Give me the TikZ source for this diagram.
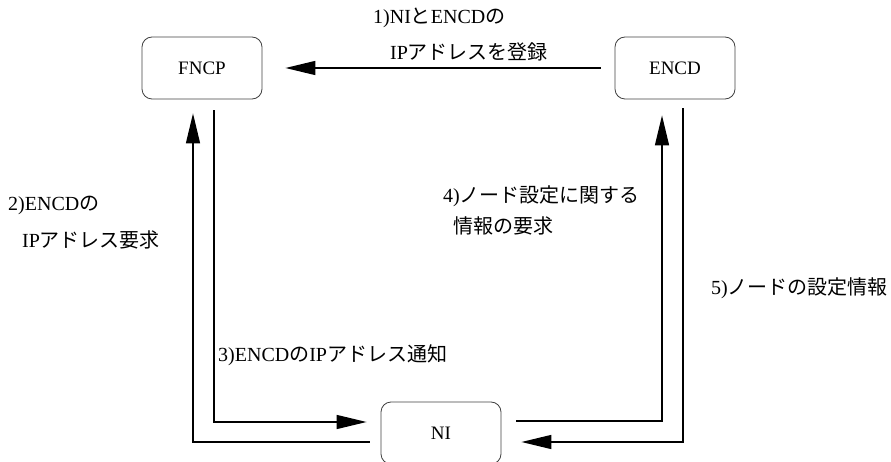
\documentclass[tikz,border=0pt]{standalone}
\usepackage{fontspec}
\setmainfont{Liberation Serif}
\newfontfamily\jp{Noto Sans CJK JP}
\usetikzlibrary{arrows.meta}
\tikzset{
  box/.style={draw=black!75, line width=0.8pt, rounded corners=10pt, minimum width=120pt, minimum height=62pt, inner sep=0pt, font=\fontsize{19}{22}\selectfont},
  arr/.style={draw=black, line width=1.4pt, -{Triangle[length=30pt,width=14pt]}},
  lbl/.style={anchor=west, inner sep=0pt, font=\fontsize{20}{24}\selectfont},
}
\begin{document}
\begin{tikzpicture}[x=1pt, y=-1pt]
\useasboundingbox (0,0) rectangle (891,462);
\node[box] (FNCP) at (202,68) {FNCP};
\node[box] (ENCD) at (675,68) {ENCD};
\node[box] (NI) at (441,433) {NI};

\draw[arr, shorten <=14pt, shorten >=23pt] (ENCD.west) -- (FNCP.east);
\draw[arr] ([shift={(-11,9)}]NI.west) -| ([shift={(-9,14)}]FNCP.south);
\draw[arr] ([shift={(12,11)}]FNCP.south) |- ([shift={(-14,-11)}]NI.west);
\draw[arr] ([shift={(15,-12)}]NI.east) -| ([shift={(-13,16)}]ENCD.south);
\draw[arr] ([shift={(8,9)}]ENCD.south) |- ([shift={(20,9)}]NI.east);

\node[lbl] (l1a) at (373,18) {1)NI{\jp と}ENCD{\jp の}};
\node[lbl] (l1b) at (390,52) {IP{\jp アドレスを登録}};
\node[lbl] (l2a) at (8,205) {2)ENCD{\jp の}};
\node[lbl] (l2b) at (22,240) {IP{\jp アドレス要求}};
\node[lbl] (l3) at (218,355) {3)ENCD{\jp の}IP{\jp アドレス通知}};
\node[lbl] (l4a) at (443,196) {4){\jp ノード設定に関する}};
\node[lbl] (l4b) at (453,226) {{\jp 情報の要求}};
\node[lbl, anchor=east] (l5) at (888,288) {5){\jp ノードの設定情報}};
\end{tikzpicture}
\end{document}
